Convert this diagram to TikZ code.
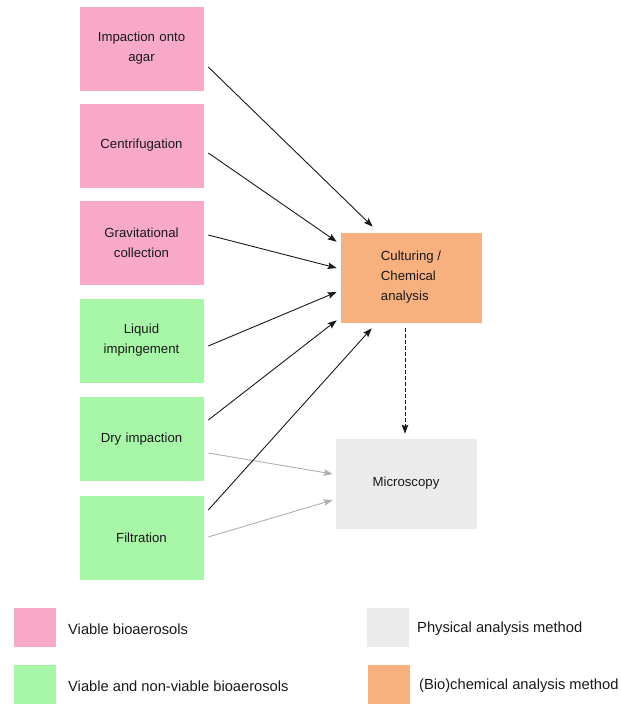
\documentclass[tikz,border=0pt]{standalone}
\usepackage{fontspec}
\setmainfont{Liberation Sans}
\usetikzlibrary{arrows.meta,calc}
\definecolor{pinkbox}{RGB}{249,169,200}
\definecolor{greenbox}{RGB}{168,246,168}
\definecolor{orangebox}{RGB}{249,176,127}
\definecolor{graybox}{RGB}{235,235,235}
\definecolor{darkarrow}{RGB}{25,25,25}
\definecolor{lightarrow}{RGB}{175,175,175}
\tikzset{
  boxbase/.style={draw=white, line width=0.6pt, inner sep=2pt,
    font=\fontsize{13.2}{20}\selectfont, text=black!90},
  method/.style={boxbase, minimum width=125pt, minimum height=85pt, align=center, text width=118pt},
  viable/.style={method, fill=pinkbox},
  nonviable/.style={method, fill=greenbox},
  analysis/.style={boxbase, minimum width=142pt, minimum height=91pt, align=center},
  conn/.style={draw=darkarrow, line width=0.9pt, -{Stealth[length=9pt,width=6.5pt,inset=1.5pt]}},
  connlight/.style={conn, draw=lightarrow},
  legsq/.style={minimum width=42pt, minimum height=39pt, inner sep=0pt},
  legtext/.style={anchor=west, inner sep=0pt, font=\fontsize{14.7}{18}\selectfont, text=black!90},
}
\begin{document}
\begin{tikzpicture}[x=1pt,y=-1pt]
\useasboundingbox (0,0) rectangle (621,704);
% sampling methods
\node[viable] (imp) at (141.5,48.5) {Impaction onto\\agar};
\node[viable] (cen) at (141.5,145.5) {Centrifugation};
\node[viable] (gra) at (141.5,242.5) {Gravitational\\collection};
\node[nonviable] (liq) at (141.5,340.5) {Liquid\\impingement};
\node[nonviable] (dry) at (141.5,439) {Dry impaction};
\node[nonviable] (fil) at (141.5,538) {Filtration};
% analysis methods
\node[analysis, fill=orangebox, align=left] (cul) at (411,277.5) {Culturing /\\Chemical\\analysis};
\node[analysis, fill=graybox] (mic) at (406,483.5) {Microscopy};
% connectors
\draw[conn] ([xshift=4pt,yshift=-18.5pt]imp.east) -- ([xshift=33pt,yshift=5pt]cul.north west);
\draw[conn] ([xshift=4pt,yshift=-7.5pt]cen.east) -- ([xshift=-3pt,yshift=-10pt]cul.north west);
\draw[conn] ([xshift=4pt,yshift=7.5pt]gra.east) -- ([xshift=-3pt,yshift=9.5pt]cul.west);
\draw[conn] ([xshift=4pt,yshift=-5.5pt]liq.east) -- ([xshift=-3pt,yshift=-14.5pt]cul.west);
\draw[conn] ([xshift=4pt,yshift=19pt]dry.east) -- ([xshift=-3pt,yshift=3pt]cul.south west);
\draw[connlight] ([xshift=4pt,yshift=-14pt]dry.east) -- ([xshift=-2pt,yshift=9.5pt]mic.west);
\draw[connlight] ([xshift=4pt,yshift=1pt]fil.east) -- ([xshift=-2pt,yshift=-16.5pt]mic.west);
\draw[conn] ([xshift=4pt,yshift=28pt]fil.east) -- ([xshift=32pt,yshift=-5pt]cul.south west);
\draw[conn, dash pattern=on 4pt off 2pt] ([xshift=-6pt,yshift=-5pt]cul.south) -- ([xshift=-1pt,yshift=4pt]mic.north);
% legend
\node[legsq, fill=pinkbox] (lp) at (34.5,627.5) {};
\node[legtext] (lpt) at (68,629) {Viable bioaerosols};
\node[legsq, fill=greenbox] (lg) at (34.5,684.5) {};
\node[legtext] (lgt) at (68,686) {Viable and non-viable bioaerosols};
\node[legsq, fill=graybox] (lq) at (387.5,627.5) {};
\node[legtext] (lqt) at (417,629) {Physical analysis method};
\node[legsq, fill=orangebox] (lo) at (388.5,684.5) {};
\node[legtext] (lot) at (419,686) {(Bio)chemical analysis method};
\end{tikzpicture}
\end{document}
